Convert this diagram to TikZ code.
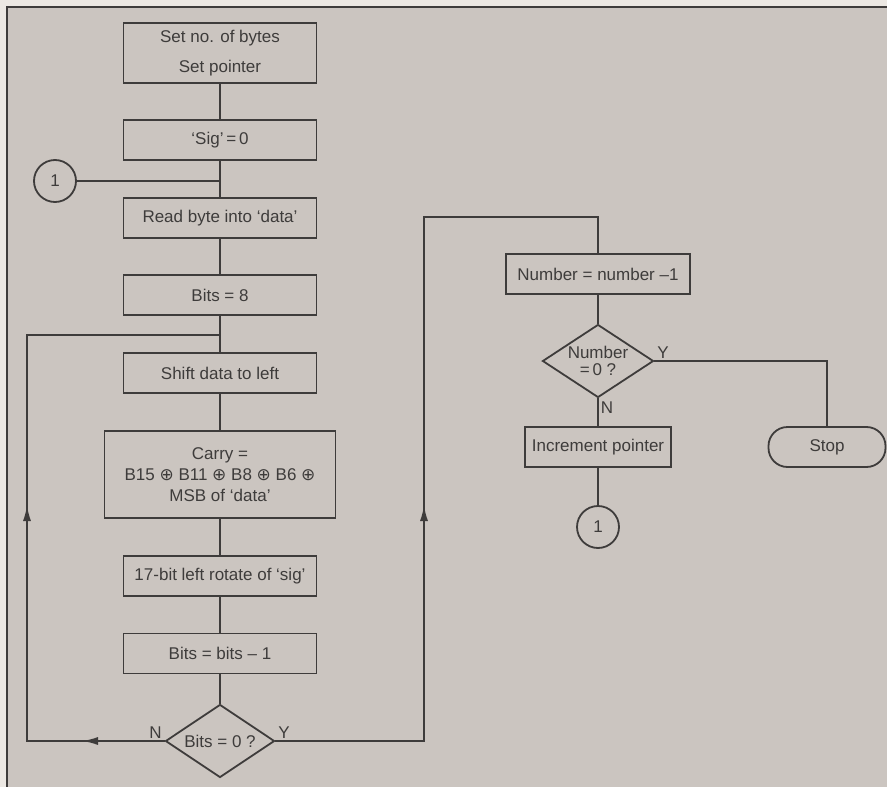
\documentclass[tikz,border=0pt]{standalone}
\usepackage{fontspec}
\setmainfont{Liberation Sans}
\newfontfamily\symfont{DejaVu Sans}
\usetikzlibrary{shapes.geometric,arrows.meta}

\definecolor{paper}{HTML}{CBC5C0}
\definecolor{margin}{HTML}{ECE8E3}
\definecolor{ink}{HTML}{3E3C3B}

\newcommand{\xor}{{\symfont ⊕}}

\begin{document}
\begin{tikzpicture}[x=1pt, y=-1pt, line width=1.8pt, color=ink,
    txt/.style={font=\fontsize{17}{21}\selectfont},
    box/.style={draw, rectangle, txt, align=center, inner sep=2pt,
        minimum width=193pt, minimum height=40pt},
    test/.style={draw, diamond, aspect=1.5, txt, align=center, inner sep=0pt,
        minimum width=109pt, minimum height=73pt},
    conn/.style={draw, circle, txt, inner sep=0pt, minimum size=42pt},
    stopbox/.style={draw, rectangle, rounded corners=19pt, txt,
        minimum width=117pt, minimum height=40pt},
    lab/.style={txt, inner sep=2pt},
    flow/.style={-{Latex[length=16pt,width=8pt]}}]

    % Page and frame
    \useasboundingbox (0,0) rectangle (887,787);
    \fill[margin] (0,0) rectangle (887,787);
    \fill[paper] (7,7) rectangle (887,787);
    \draw[line width=1.5pt] (7,787) -- (7,7) -- (887,7);

    % Main column
    \node[box, minimum height=60pt] (setup) at (220,53) {Set no. of bytes\\[9pt]Set pointer};
    \node[box] (sig) at (220,140) {`Sig'\,=\,0};
    \node[box] (read) at (220,218) {Read byte into `data'};
    \node[box] (bits) at (220,295) {Bits = 8};
    \node[box] (shift) at (220,373) {Shift data to left};
    \node[box, minimum width=231pt, minimum height=87pt] (carry) at (220,474.5)
        {Carry =\\B15 \xor\ B11 \xor\ B8 \xor\ B6 \xor\\MSB of `data'};
    \node[box] (rot) at (220,576) {17-bit left rotate of `sig'};
    \node[box] (dec) at (220,653.5) {Bits = bits -- 1};
    \node[test] (bitz) at (220,741) {Bits = 0 ?};

    % Entry connector
    \node[conn] (c1) at (55,181) {1};
    \coordinate (join) at (220,181);

    % Right column
    \node[box, minimum width=184pt] (num) at (598,274) {Number = number --1};
    \node[test, minimum width=111pt] (numz) at (598,361)
        {\raisebox{-3pt}{Number}\\[-4pt]\raisebox{-3pt}{=\,0 ?}};
    \node[box, minimum width=146pt] (incr) at (598,447) {Increment pointer};
    \node[stopbox] (stop) at (827,447) {Stop};
    \node[conn] (c2) at (598,527) {1};

    % Straight links
    \draw (setup.south) -- (sig.north);
    \draw (sig.south) -- (read.north);
    \draw (c1.east) -- (join);
    \draw (read.south) -- (bits.north);
    \draw (bits.south) -- (shift.north);
    \draw (shift.south) -- (carry.north);
    \draw (carry.south) -- (rot.north);
    \draw (rot.south) -- (dec.north);
    \draw (dec.south) -- (bitz.north);

    % N loop back to top of shift
    \coordinate (loopin) at (220,335);
    \coordinate (narr) at (82,741);
    \coordinate (nfoot) at (27,741);
    \coordinate (nup) at (27,505);
    \coordinate (nhead) at (27,335);
    \draw (bitz.west) -- (nfoot) -- (nhead) -- (loopin);
    \draw[flow] (bitz.west) -- (narr);
    \draw[flow] (nfoot) -- (nup);

    % Y path over to next byte
    \coordinate (yfoot) at (424,741);
    \coordinate (yup) at (424,505);
    \coordinate (ytop) at (424,217);
    \draw (bitz.east) -- (yfoot) -- (ytop) -| (num.north);
    \draw[flow] (yfoot) -- (yup);

    \draw (num.south) -- (numz.north);
    \draw (numz.south) -- (incr.north);
    \draw (incr.south) -- (c2.north);
    \draw (numz.east) -| (stop.north);

    % Branch labels
    \node[lab, anchor=south east] (bn) at (bitz.west) {N};
    \node[lab, anchor=south west] (by) at (bitz.east) {Y};
    \node[lab, anchor=south west] (ny) at (numz.east) {Y};
    \node[lab, anchor=north west] (nn) at ([yshift=-1pt]numz.south) {N};

\end{tikzpicture}
\end{document}
